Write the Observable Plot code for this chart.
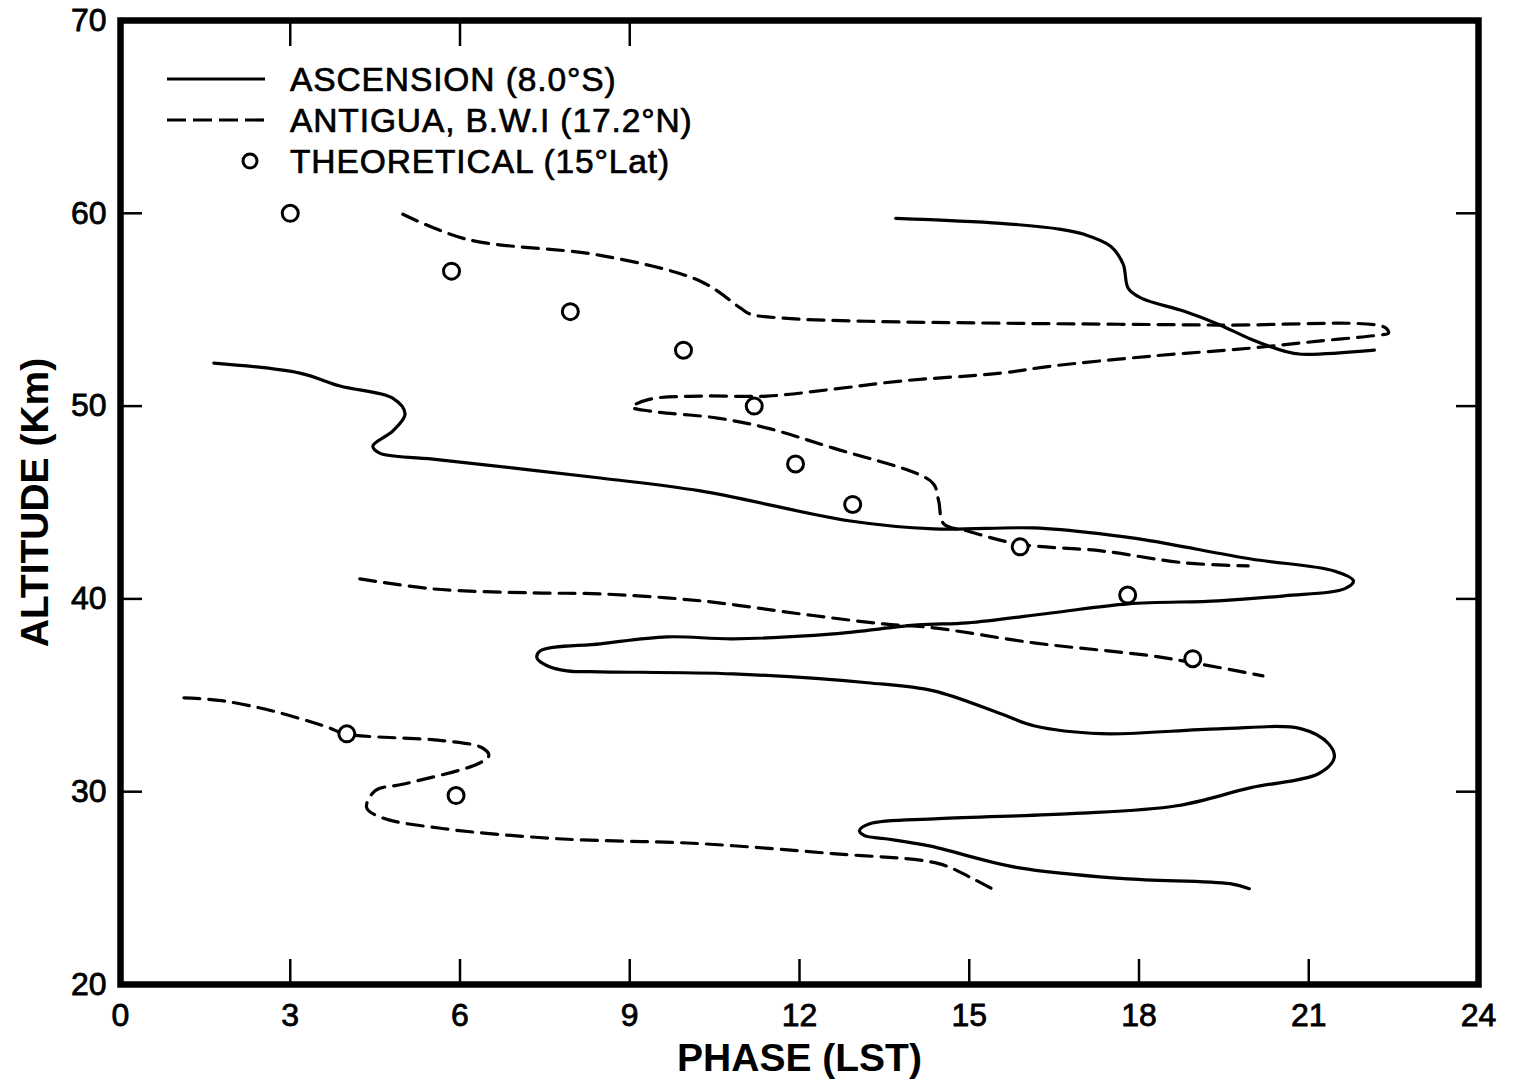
<!DOCTYPE html>
<html>
<head>
<meta charset="utf-8">
<script src="https://cdn.jsdelivr.net/npm/d3@7"></script>
<script src="https://cdn.jsdelivr.net/npm/@observablehq/plot@0.6"></script>
<style>
  html, body { margin: 0; padding: 0; background: #fff; }
  #wrap { position: relative; width: 1532px; height: 1079px; }
  #wrap svg text { font-family: "Liberation Sans", Arial, sans-serif; }
  #chart g[aria-label="x-axis tick label"] text,
  #chart g[aria-label="y-axis tick label"] text { font-size: 32px; stroke: #000; stroke-width: 0.8px; }
  #chart g[aria-label="x-axis label"] text,
  #chart g[aria-label="y-axis label"] text { font-size: 39px; font-weight: bold; }
  #legend { position: absolute; left: 0; top: 0; pointer-events: none; }
  #legend text { stroke: #000; stroke-width: 0.7px; letter-spacing: 0.9px; }
</style>
</head>
<body>
<div id="wrap"><div id="chart"></div></div>
<script>
// ---- data: [phase (LST, h), altitude (km)] ----
const ascensionUpper = [[13.70,59.74],[15.56,59.48],[16.62,59.17],[17.03,58.91],[17.50,58.29],[17.72,57.36],[17.81,56.11],[18.04,55.60],[18.80,54.92],[19.40,54.25],[19.98,53.47],[20.57,52.85],[20.87,52.69],[22.16,52.90]];
const ascensionLower = [[1.65,52.23],[3.17,51.71],[3.88,51.04],[4.81,50.41],[5.03,49.59],[4.81,48.70],[4.46,47.93],[4.58,47.56],[5.52,47.25],[8.48,46.27],[10.25,45.60],[12.90,44.04],[14.37,43.63],[16.14,43.68],[17.33,43.37],[18.21,43.01],[19.98,42.07],[21.45,41.45],[21.79,40.93],[21.63,40.52],[20.57,40.16],[19.40,39.90],[17.81,39.74],[16.44,39.27],[14.97,38.76],[14.09,38.65],[12.60,38.19],[10.83,37.93],[9.66,38.03],[8.48,37.67],[7.42,37.31],[7.36,36.94],[7.54,36.53],[7.89,36.27],[8.48,36.22],[10.83,36.11],[13.20,35.65],[14.37,35.23],[15.56,34.04],[16.14,33.42],[17.33,33.01],[19.40,33.26],[20.87,33.26],[21.35,32.49],[21.45,31.76],[21.17,30.93],[19.98,30.21],[18.67,29.27],[16.80,28.86],[14.46,28.60],[13.24,28.34],[13.06,27.98],[13.15,27.72],[13.52,27.56],[14.27,27.20],[15.86,26.06],[17.73,25.49],[19.61,25.23],[19.95,24.97]];
const antiguaUpper = [[4.99,59.95],[6.12,58.65],[8.48,57.82],[10.25,56.48],[10.96,55.08],[11.13,54.77],[11.72,54.56],[13.20,54.40],[15.56,54.30],[19.40,54.20],[22.34,54.09],[22.41,53.78],[22.23,53.68],[21.17,53.37],[19.98,53.01],[18.21,52.59],[16.44,52.07],[15.56,51.71],[13.79,51.30],[12.60,50.88],[11.43,50.52],[10.25,50.52],[9.36,50.36],[9.04,49.95],[9.36,49.74],[10.55,49.38],[11.43,48.86],[12.60,47.82],[14.09,46.48],[14.37,45.96],[14.46,45.08],[14.55,43.89],[14.97,43.52],[15.86,42.85],[17.33,42.49],[18.80,41.87],[19.93,41.71]];
const antiguaMiddle = [[4.23,41.04],[5.52,40.52],[7.29,40.31],[8.48,40.26],[10.25,39.90],[12.02,39.22],[13.49,38.70],[14.37,38.50],[16.14,37.72],[18.21,37.05],[18.97,36.68],[20.19,36.01]];
const antiguaLower = [[1.12,34.87],[1.79,34.72],[2.67,34.20],[3.68,33.32],[3.95,33.01],[5.72,32.64],[6.39,32.28],[6.51,31.87],[6.32,31.45],[5.03,30.41],[4.50,30.05],[4.35,29.17],[4.62,28.65],[5.72,28.08],[7.73,27.56],[10.21,27.31],[12.58,26.79],[14.46,26.27],[15.03,25.54],[15.40,24.97]];
const theoretical = [[3.0,60.0],[5.85,57.0],[7.95,54.9],[9.95,52.9],[11.2,50.0],[11.93,47.0],[12.94,44.9],[15.9,42.7],[17.8,40.2],[18.95,36.9],[4.0,33.0],[5.93,29.8]];

const xTickLabels = [0, 3, 6, 9, 12, 15, 18, 21, 24];
const yTickLabels = [20, 30, 40, 50, 60, 70];
const xInnerTicksBottom = [3, 6, 9, 12, 15, 18, 21];
const xInnerTicksTop = [3, 6, 9];
const yInnerTicks = [30, 40, 50, 60];

const legendLabels = ["ASCENSION (8.0°S)", "ANTIGUA, B.W.I (17.2°N)", "THEORETICAL (15°Lat)"];

// ---- tables for Plot ----
const toRows = (seg, pts) => pts.map(([x, y]) => ({seg, x, y}));
const solidRows = [...toRows("asc1", ascensionUpper), ...toRows("asc2", ascensionLower)];
const dashRows = [...toRows("ant1", antiguaUpper), ...toRows("ant2", antiguaMiddle), ...toRows("ant3", antiguaLower)];
const dotRows = theoretical.map(([x, y]) => ({x, y}));

const chart = Plot.plot({
  width: 1532,
  height: 1079,
  marginLeft: 120,
  marginRight: 54,
  marginTop: 20,
  marginBottom: 95,
  x: {domain: [0, 24]},
  y: {domain: [20, 70]},
  marks: [
    Plot.axisX({ticks: xTickLabels, tickSize: 0, tickPadding: 19, label: "PHASE (LST)", labelAnchor: "center", labelOffset: 86, labelArrow: false}),
    Plot.axisX({ticks: xInnerTicksBottom, tickSize: -25, text: null, label: null, strokeWidth: 2.5}),
    Plot.axisX({anchor: "top", ticks: xInnerTicksTop, tickSize: -25, text: null, label: null, strokeWidth: 2.5}),
    Plot.axisY({ticks: yTickLabels, tickSize: 0, tickPadding: 14, label: "ALTITUDE (Km)", labelAnchor: "center", labelOffset: 100, labelArrow: false}),
    Plot.axisY({ticks: yInnerTicks, tickSize: -22, text: null, label: null, strokeWidth: 2.5}),
    Plot.axisY({anchor: "right", ticks: yInnerTicks, tickSize: -23, text: null, label: null, strokeWidth: 2.5}),
    Plot.line(solidRows, {x: "x", y: "y", z: "seg", curve: "catmull-rom", stroke: "#000", strokeWidth: 3.2}),
    Plot.line(dashRows, {x: "x", y: "y", z: "seg", curve: "catmull-rom", stroke: "#000", strokeWidth: 3.2, strokeDasharray: "16,9"}),
    Plot.dot(dotRows, {x: "x", y: "y", r: 8, stroke: "#000", strokeWidth: 3, fill: "#fff"}),
    Plot.frame({stroke: "#000", strokeWidth: 6.5})
  ]
});
document.getElementById("chart").appendChild(chart);

// ---- legend overlay (inside the frame, top-left) ----
const lg = d3.select("#wrap").append("svg")
  .attr("id", "legend").attr("width", 1532).attr("height", 1079);
const rowsY = [79, 120, 161];
lg.append("line").attr("x1", 167).attr("x2", 265).attr("y1", rowsY[0]).attr("y2", rowsY[0])
  .attr("stroke", "#000").attr("stroke-width", 3.2);
lg.append("line").attr("x1", 167).attr("x2", 265).attr("y1", rowsY[1]).attr("y2", rowsY[1])
  .attr("stroke", "#000").attr("stroke-width", 3.2).attr("stroke-dasharray", "19,7");
lg.append("circle").attr("cx", 250).attr("cy", rowsY[2]).attr("r", 7)
  .attr("stroke", "#000").attr("stroke-width", 3).attr("fill", "#fff");
legendLabels.forEach((t, i) => {
  lg.append("text").attr("x", 290).attr("y", rowsY[i]).attr("dy", "0.36em")
    .attr("font-size", 33.5).attr("fill", "#000").text(t);
});
</script>
</body>
</html>
